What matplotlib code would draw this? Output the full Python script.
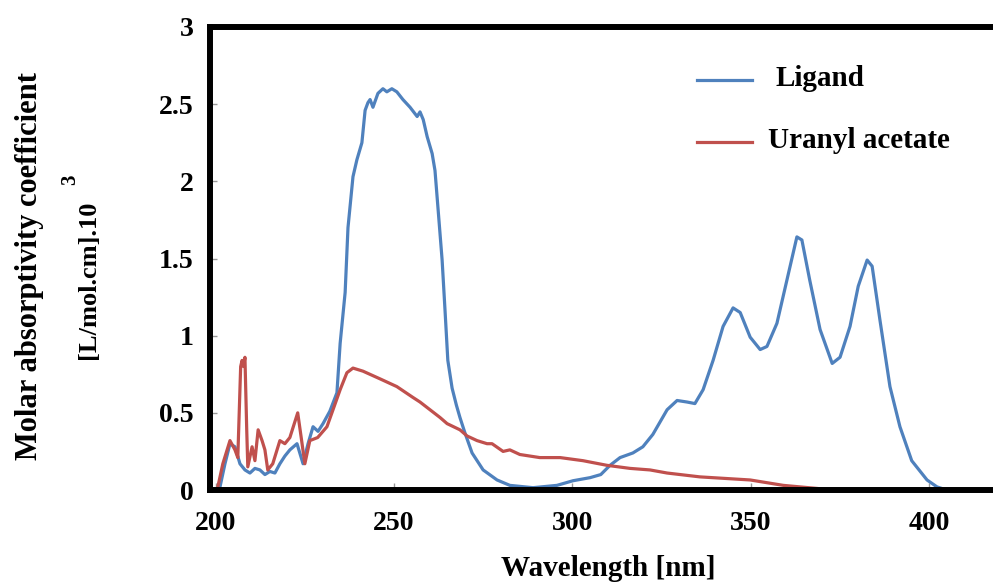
import matplotlib
matplotlib.use("Agg")
import matplotlib.pyplot as plt
from matplotlib.lines import Line2D

# ---------------- data ----------------
series_names = ["Ligand", "Uranyl acetate"]

ligand_x = [201.2, 202.6, 204.0, 205.4, 206.8, 208.2, 209.6, 211.0, 212.4, 213.8, 215.2, 216.6,
            218.0, 219.4, 220.8, 222.8, 224.5, 225.9, 227.3, 228.7, 230.1, 232.0, 234.0, 234.9,
            236.3, 237.1, 238.5, 239.6, 241.0, 241.9, 242.7, 243.3, 244.1, 245.5, 246.9, 248.0,
            249.4, 250.8, 252.5, 254.5, 256.5, 257.3, 258.2, 259.3, 260.7, 261.5, 262.4, 263.5,
            264.3, 265.1, 266.3, 267.5, 268.5, 269.9, 271.9, 275.0, 278.9, 282.5, 289.0, 295.7,
            300.2, 305.0, 308.0, 310.6, 313.4, 317.0, 319.8, 322.6, 326.6, 329.4, 332.2, 334.4,
            336.7, 339.5, 342.3, 345.1, 347.1, 349.9, 352.7, 354.6, 357.4, 360.2, 363.0, 364.4,
            366.6, 369.5, 372.9, 375.1, 377.9, 380.2, 382.7, 384.1, 386.3, 389.1, 391.9, 395.2,
            399.5, 402.3, 405.0]
ligand_y = [0.02, 0.17, 0.30, 0.28, 0.17, 0.13, 0.11, 0.14, 0.13, 0.10, 0.12, 0.11,
            0.17, 0.22, 0.26, 0.30, 0.17, 0.30, 0.41, 0.38, 0.43, 0.51, 0.63, 0.95,
            1.28, 1.70, 2.03, 2.14, 2.25, 2.46, 2.51, 2.53, 2.48, 2.57, 2.60, 2.58,
            2.60, 2.58, 2.53, 2.48, 2.42, 2.45, 2.40, 2.29, 2.18, 2.07, 1.81, 1.49,
            1.17, 0.84, 0.66, 0.55, 0.47, 0.37, 0.24, 0.13, 0.065, 0.03, 0.015, 0.03,
            0.06, 0.08, 0.10, 0.16, 0.21, 0.24, 0.28, 0.36, 0.52, 0.58, 0.57, 0.56,
            0.65, 0.84, 1.06, 1.18, 1.15, 0.99, 0.91, 0.93, 1.08, 1.36, 1.64, 1.62,
            1.36, 1.04, 0.82, 0.86, 1.06, 1.32, 1.49, 1.45, 1.10, 0.67, 0.41, 0.19,
            0.065, 0.02, 0.0]

uranyl_x = [200.6, 202.0, 204.0, 205.4, 206.2, 207.0, 207.4, 207.8, 208.2, 208.7, 209.0, 210.2,
            211.0, 211.9, 213.0, 213.8, 214.6, 216.0, 218.0, 219.4, 220.8, 223.0, 224.1, 225.0,
            226.4, 228.6, 231.2, 232.9, 234.9, 236.8, 238.5, 241.3, 246.1, 250.8, 255.3, 257.3,
            260.1, 262.9, 264.9, 268.5, 270.5, 273.3, 276.1, 277.5, 280.6, 282.5, 285.3, 290.9,
            296.6, 303.0, 309.7, 316.2, 321.8, 326.6, 335.8, 349.9, 359.2, 368.7, 373.1]
uranyl_y = [0.02, 0.17, 0.32, 0.26, 0.21, 0.80, 0.84, 0.80, 0.86, 0.39, 0.15, 0.28,
            0.19, 0.39, 0.32, 0.26, 0.13, 0.17, 0.32, 0.30, 0.34, 0.50, 0.32, 0.17,
            0.32, 0.34, 0.41, 0.52, 0.65, 0.76, 0.79, 0.77, 0.72, 0.67, 0.60, 0.57,
            0.52, 0.47, 0.43, 0.39, 0.35, 0.32, 0.30, 0.30, 0.25, 0.26, 0.23, 0.21,
            0.21, 0.19, 0.16, 0.14, 0.13, 0.11, 0.085, 0.065, 0.03, 0.01, 0.0]

x_ticks = [200, 250, 300, 350, 400]
y_ticks = [0, 0.5, 1, 1.5, 2, 2.5, 3]
y_tick_labels = ["0", "0.5", "1", "1.5", "2", "2.5", "3"]

# ---------------- style ----------------
W, H = 993, 587
FONT = "Liberation Serif"
BLUE = "#4F81BD"
RED = "#C0504D"

fig = plt.figure(figsize=(W / 100, H / 100), dpi=100)
ax = fig.add_axes([210 / W, 1 - 490 / H, 1 - 210 / W, (490 - 27) / H])

ax.plot(ligand_x, ligand_y, color=BLUE, lw=2.3, solid_joinstyle="round")
ax.plot(uranyl_x, uranyl_y, color=RED, lw=2.3, solid_joinstyle="round")

ax.set_xlim(198.4, 418.0)
ax.set_ylim(0, 3)
ax.set_xticks(x_ticks)
ax.set_xticklabels([str(t) for t in x_ticks])
ax.set_yticks(y_ticks)
ax.set_yticklabels(y_tick_labels)

for side in ["left", "bottom", "top"]:
    ax.spines[side].set_linewidth(4.3)
    ax.spines[side].set_color("black")
ax.spines["right"].set_visible(False)

ax.tick_params(axis="both", direction="in", length=5, width=1, color="#999999")
ax.tick_params(axis="y", pad=12)
ax.tick_params(axis="x", pad=15)
for lab in ax.get_xticklabels() + ax.get_yticklabels():
    lab.set_fontfamily(FONT)
    lab.set_fontweight("bold")
    lab.set_fontsize(20)

# axis titles
fig.text(608 / W, 1 - 568 / H, "Wavelength [nm]", ha="center", va="center",
         fontfamily=FONT, fontweight="bold", fontsize=21)
fig.text(30 / W, 1 - 266 / H, "Molar absorptivity coefficient", ha="center", va="center",
         rotation=90, fontfamily=FONT, fontweight="bold", fontsize=22)
fig.text(88 / W, 1 - 280 / H, "[L/mol.cm].10", ha="center", va="center",
         rotation=90, fontfamily=FONT, fontweight="bold", fontsize=19)
fig.text(70 / W, 1 - 180 / H, "3", ha="center", va="center",
         rotation=90, fontfamily=FONT, fontweight="bold", fontsize=15)

# legend (manual placement)
leg_rows = [(BLUE, 80, 776), (RED, 142, 768)]
for name, (col, yy, tx) in zip(series_names, leg_rows):
    fig.add_artist(Line2D([697 / W, 752 / W], [1 - yy / H, 1 - yy / H], color=col, lw=2.3,
                          transform=fig.transFigure))
    fig.text(tx / W, 1 - (yy - 1) / H, name, ha="left", va="center",
             fontfamily=FONT, fontweight="bold", fontsize=21)

fig.savefig("out.png", dpi=100)
